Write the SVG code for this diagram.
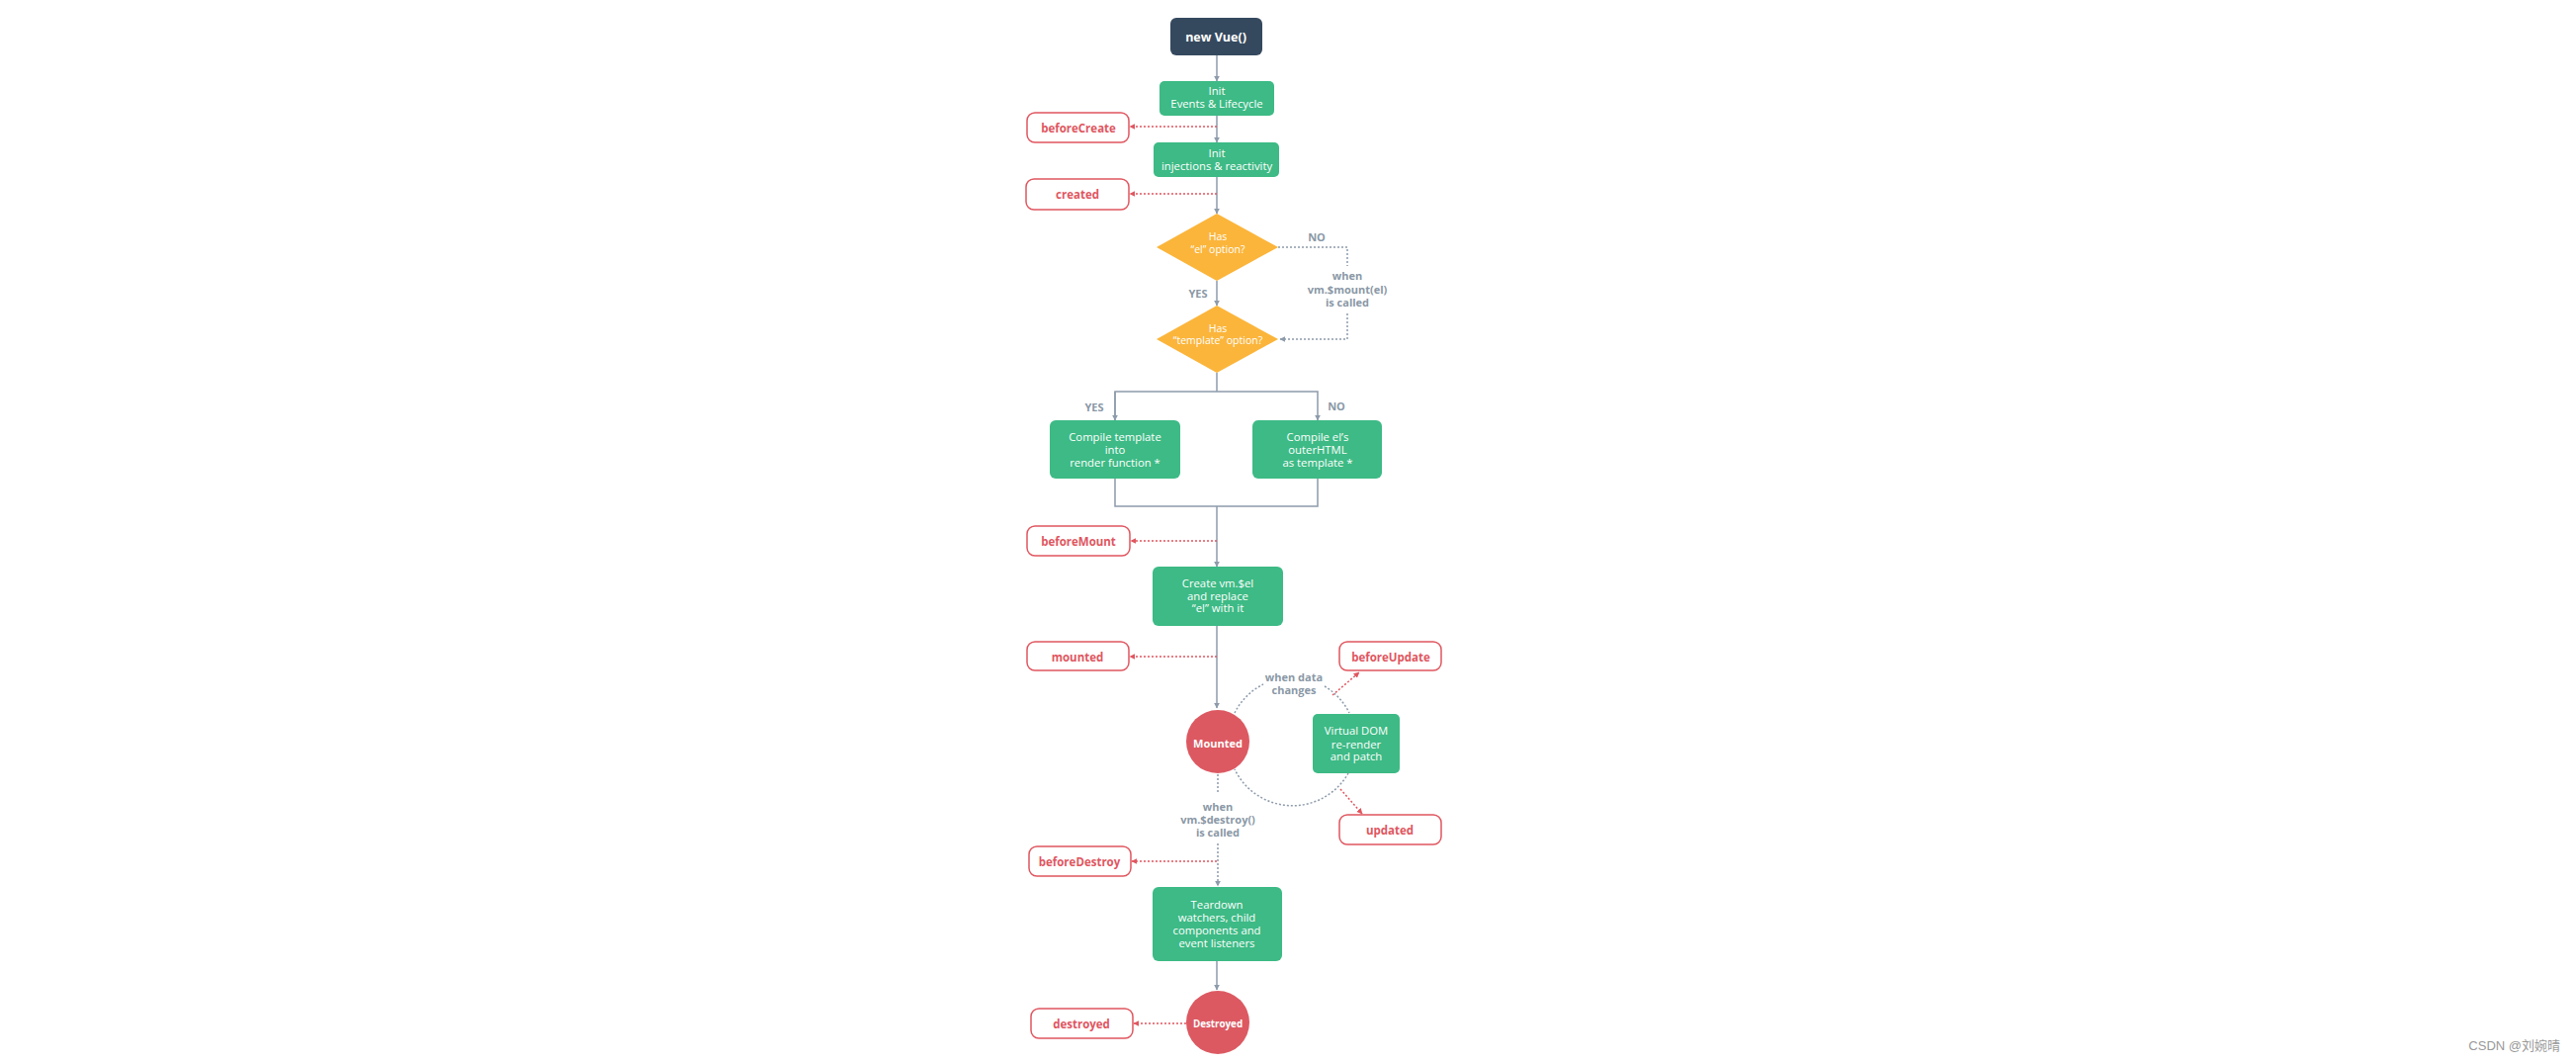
<svg xmlns="http://www.w3.org/2000/svg" width="2606" height="1074" viewBox="0 0 2606 1074">
<style>
text{font-family:"Open Sans","Liberation Sans",sans-serif;text-anchor:middle;dominant-baseline:central}
.box{fill:#3dba85}
.bt{fill:#fff;font-size:11.3px}
.dt{fill:#fff;font-size:10.5px}
.hook{fill:#fff;stroke:#e0565f;stroke-width:1.5}
.ht{fill:#e0565f;font-size:11.5px;font-weight:700}
.lbl{fill:#8a98a6;font-size:11px;font-weight:700}
.ln{fill:none;stroke:#8d9bab;stroke-width:1.5}
.dl{fill:none;stroke:#8d9bab;stroke-width:1.5;stroke-dasharray:2 2}
.rl{fill:none;stroke:#e0565f;stroke-width:1.5;stroke-dasharray:2 2}
.circ{fill:#dc5962}
.ct{fill:#fff;font-size:11px;font-weight:700}
</style>
<defs>
<marker id="ag" viewBox="0 0 10 10" refX="9" refY="5" markerWidth="6" markerHeight="6" markerUnits="userSpaceOnUse" orient="auto"><path d="M0,0L10,5L0,10z" fill="#8d9bab"/></marker>
<marker id="ar" viewBox="0 0 10 10" refX="9" refY="5" markerWidth="6" markerHeight="6" markerUnits="userSpaceOnUse" orient="auto"><path d="M0,0L10,5L0,10z" fill="#e0565f"/></marker>
</defs>
<rect width="2606" height="1074" fill="#fff"/>

<g id="connectors">
<path class="ln" d="M1231,56V82" marker-end="url(#ag)"/>
<path class="ln" d="M1231,117V144" marker-end="url(#ag)"/>
<path class="ln" d="M1231,179V216" marker-end="url(#ag)"/>
<path class="ln" d="M1231,284V309" marker-end="url(#ag)"/>
<path class="dl" d="M1293,250H1363V269"/>
<path class="dl" d="M1363,317V343H1295" marker-end="url(#ag)"/>
<path class="ln" d="M1231,377V396"/>
<path class="ln" d="M1128,425V396H1333V425" marker-end="url(#ag)"/>
<path class="ln" d="M1128,396V425" marker-end="url(#ag)"/>
<path class="ln" d="M1128,484V512H1333V484"/>
<path class="ln" d="M1231,512V573" marker-end="url(#ag)"/>
<path class="ln" d="M1231,633V716" marker-end="url(#ag)"/>
<path class="dl" d="M1232,783V803"/>
<path class="dl" d="M1232,853V896" marker-end="url(#ag)"/>
<path class="ln" d="M1231,972V1001" marker-end="url(#ag)"/>
<path class="dl" d="M1249,721A65,65 0 0 1 1278,692"/>
<path class="dl" d="M1340,694A65,65 0 0 1 1365,721"/>
<path class="dl" d="M1364,782A65,65 0 0 1 1249,778"/>
<path class="rl" d="M1231,128H1143" marker-end="url(#ar)"/>
<path class="rl" d="M1231,196H1143" marker-end="url(#ar)"/>
<path class="rl" d="M1231,547H1144" marker-end="url(#ar)"/>
<path class="rl" d="M1231,664H1143" marker-end="url(#ar)"/>
<path class="rl" d="M1231,871H1145" marker-end="url(#ar)"/>
<path class="rl" d="M1200,1035H1147" marker-end="url(#ar)"/>
<path class="rl" d="M1348,703L1375,680" marker-end="url(#ar)"/>
<path class="rl" d="M1356,798L1378,823" marker-end="url(#ar)"/>
<text class="lbl" x="1332" y="239">NO</text>
<text class="lbl" x="1363" y="278">when</text>
<text class="lbl" x="1363" y="292">vm.$mount(el)</text>
<text class="lbl" x="1363" y="305">is called</text>
<text class="lbl" x="1212" y="296">YES</text>
<text class="lbl" x="1107" y="411">YES</text>
<text class="lbl" x="1352" y="410">NO</text>
<text class="lbl" x="1309" y="684">when data</text>
<text class="lbl" x="1309" y="697">changes</text>
<text class="lbl" x="1232" y="815">when</text>
<text class="lbl" x="1232" y="828">vm.$destroy()</text>
<text class="lbl" x="1232" y="841">is called</text>
</g>

<g id="new-vue">
<rect x="1184" y="18" width="93" height="38" rx="6" fill="#35495e"/>
<text x="1230" y="37" fill="#fff" font-size="12.5" font-weight="700">new Vue()</text>
</g>
<g id="init-events">
<rect class="box" x="1173" y="82" width="116" height="35" rx="5"/>
<text class="bt" x="1231" y="91">Init</text>
<text class="bt" x="1231" y="104">Events &amp; Lifecycle</text>
</g>
<g id="before-create">
<rect class="hook" x="1039" y="114" width="103" height="30" rx="8"/>
<text class="ht" x="1091" y="129">beforeCreate</text>
</g>
<g id="init-injections">
<rect class="box" x="1167" y="144" width="127" height="35" rx="5"/>
<text class="bt" x="1231" y="154">Init</text>
<text class="bt" x="1231" y="167">injections &amp; reactivity</text>
</g>
<g id="created">
<rect class="hook" x="1038" y="181" width="104" height="31" rx="8"/>
<text class="ht" x="1090" y="196">created</text>
</g>
<g id="has-el">
<path d="M1231,216L1293,250L1231,284L1170,250z" fill="#fbb53b"/>
<text class="dt" x="1232" y="239">Has</text>
<text class="dt" x="1232" y="252">“el” option?</text>
</g>
<g id="has-template">
<path d="M1231,309L1293,343L1231,377L1170,343z" fill="#fbb53b"/>
<text class="dt" x="1232" y="332">Has</text>
<text class="dt" x="1232" y="344">“template” option?</text>
</g>
<g id="compile-template">
<rect class="box" x="1062" y="425" width="132" height="59" rx="6"/>
<text class="bt" x="1128" y="441">Compile template</text>
<text class="bt" x="1128" y="454">into</text>
<text class="bt" x="1128" y="467">render function *</text>
</g>
<g id="compile-el">
<rect class="box" x="1267" y="425" width="131" height="59" rx="6"/>
<text class="bt" x="1333" y="441">Compile el’s</text>
<text class="bt" x="1333" y="454">outerHTML</text>
<text class="bt" x="1333" y="467">as template *</text>
</g>
<g id="before-mount">
<rect class="hook" x="1039" y="532" width="104" height="30" rx="8"/>
<text class="ht" x="1091" y="547">beforeMount</text>
</g>
<g id="create-el">
<rect class="box" x="1166" y="573" width="132" height="60" rx="6"/>
<text class="bt" x="1232" y="589">Create vm.$el</text>
<text class="bt" x="1232" y="602">and replace</text>
<text class="bt" x="1232" y="614">“el” with it</text>
</g>
<g id="mounted-hook">
<rect class="hook" x="1039" y="649" width="103" height="29" rx="8"/>
<text class="ht" x="1090" y="664">mounted</text>
</g>
<g id="before-update">
<rect class="hook" x="1355" y="649" width="103" height="29" rx="8"/>
<text class="ht" x="1407" y="664">beforeUpdate</text>
</g>
<g id="mounted">
<circle class="circ" cx="1232" cy="750" r="32"/>
<text class="ct" x="1232" y="751">Mounted</text>
</g>
<g id="virtual-dom">
<rect class="box" x="1328" y="722" width="88" height="60" rx="5"/>
<text class="bt" x="1372" y="738">Virtual DOM</text>
<text class="bt" x="1372" y="752">re-render</text>
<text class="bt" x="1372" y="764">and patch</text>
</g>
<g id="updated">
<rect class="hook" x="1355" y="824" width="103" height="30" rx="8"/>
<text class="ht" x="1406" y="839">updated</text>
</g>
<g id="before-destroy">
<rect class="hook" x="1041" y="856" width="103" height="30" rx="8"/>
<text class="ht" x="1092" y="871">beforeDestroy</text>
</g>
<g id="teardown">
<rect class="box" x="1166" y="897" width="131" height="75" rx="6"/>
<text class="bt" x="1231" y="914">Teardown</text>
<text class="bt" x="1231" y="927">watchers, child</text>
<text class="bt" x="1231" y="940">components and</text>
<text class="bt" x="1231" y="953">event listeners</text>
</g>
<g id="destroyed">
<circle class="circ" cx="1232" cy="1034" r="32"/>
<text class="ct" x="1232" y="1035" style="font-size:9.8px">Destroyed</text>
</g>
<g id="destroyed-hook">
<rect class="hook" x="1043" y="1020" width="103" height="30" rx="8"/>
<text class="ht" x="1094" y="1035">destroyed</text>
</g>
<text x="2590" y="1057" fill="#999" font-size="13" style="text-anchor:end;font-family:'Liberation Sans','Noto Sans CJK SC',sans-serif">CSDN @刘婉晴</text>
</svg>
